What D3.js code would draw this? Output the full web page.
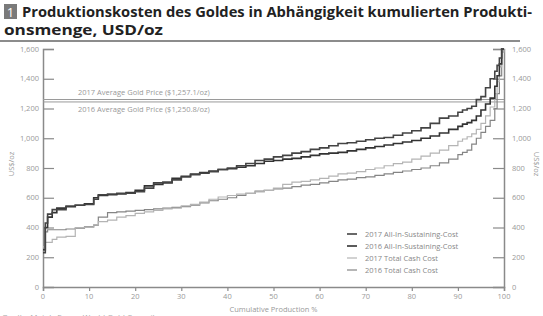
<!DOCTYPE html>
<html>
<head>
<meta charset="utf-8">
<script src="https://cdn.jsdelivr.net/npm/d3@7"></script>
<style>
  body { margin: 0; background: #fff; }
  svg { display: block; font-family: "Open Sans", "DejaVu Sans", sans-serif; }
</style>
</head>
<body>
<svg width="543" height="316"></svg>
<script>
// cumulative production % (shared grid)
var pct = [0, 0.5, 1, 2, 3, 5, 7, 9, 11, 12, 14, 16, 18, 20, 22, 24, 26, 28, 30, 32, 34, 36, 38, 40,
  42, 44, 46, 48, 50, 52, 54, 56, 58, 60, 62, 64, 66, 68, 70, 72, 74, 76, 78, 80, 82, 84, 86, 88,
  90, 91, 92, 93, 94, 95, 96, 97, 98, 98.5, 99, 99.5, 100];

var aisc17 = [230, 430, 490, 520, 520, 545, 550, 555, 590, 620, 625, 630, 630, 640, 665, 700, 705, 720, 740, 755, 765, 775, 790, 800,
  815, 830, 850, 860, 875, 885, 900, 910, 925, 935, 950, 965, 970, 980, 990, 1000, 1005, 1020, 1035, 1050, 1070, 1100, 1135, 1150,
  1175, 1190, 1200, 1215, 1260, 1280, 1340, 1400, 1450, 1490, 1540, 1600, 1600];

var aisc16 = [250, 400, 470, 500, 530, 540, 550, 560, 600, 615, 620, 625, 635, 650, 680, 690, 700, 730, 745, 760, 770, 780, 790, 795,
  805, 815, 830, 845, 850, 860, 865, 875, 885, 895, 900, 905, 915, 925, 935, 945, 955, 965, 975, 985, 1000, 1015, 1035, 1060,
  1080, 1095, 1105, 1120, 1150, 1190, 1230, 1270, 1350, 1420, 1500, 1600, 1600];

var tcc17 = [270, 300, 300, 320, 335, 340, 400, 400, 420, 440, 450, 470, 480, 495, 505, 515, 525, 530, 545, 555, 570, 590, 605, 615,
  625, 630, 640, 650, 665, 690, 705, 710, 720, 730, 745, 760, 765, 775, 790, 800, 815, 830, 840, 860, 880, 900, 920, 950,
  980, 995, 1010, 1030, 1060, 1100, 1150, 1210, 1300, 1380, 1480, 1580, 1600];

var tcc16 = [250, 370, 385, 385, 385, 390, 395, 405, 415, 470, 500, 505, 510, 515, 520, 525, 530, 535, 540, 550, 565, 580, 590, 600,
  615, 630, 645, 650, 660, 665, 675, 685, 690, 700, 710, 720, 725, 735, 740, 750, 760, 770, 780, 790, 800, 815, 835, 860,
  890, 905, 920, 960, 1000, 1040, 1080, 1120, 1200, 1300, 1420, 1580, 1600];

var seriesNames = ["2017 All-In-Sustaining-Cost", "2016 All-In-Sustaining-Cost", "2017 Total Cash Cost", "2016 Total Cash Cost"];
var seriesValues = [aisc17, aisc16, tcc17, tcc16];
var seriesColors = ["#444", "#333", "#b4b4b4", "#858585"];

var goldPrices = [1257.1, 1250.8];
var goldLabels = ["2017 Average Gold Price ($1,257.1/oz)", "2016 Average Gold Price ($1,250.8/oz)"];

var yTicks = [0, 200, 400, 600, 800, 1000, 1200, 1400, 1600];
var xTicks = [0, 10, 20, 30, 40, 50, 60, 70, 80, 90, 100];

var svg = d3.select("svg");
// plot area edges (note: "top" is reserved on window, so use own names)
var plotL = 43, plotR = 504, plotT = 49, plotB = 287;

var x = d3.scaleLinear().domain([0, 100]).range([plotL, plotR]);
var y = d3.scaleLinear().domain([0, 1600]).range([plotB, plotT]);
var fmt = d3.format(",");

// ---- title ----
svg.append("rect").attr("x", 4).attr("y", 4).attr("width", 13).attr("height", 15).attr("fill", "#7a7a7a");
svg.append("text").attr("x", 10.5).attr("y", 16.5).attr("text-anchor", "middle")
  .attr("fill", "#fff").attr("font-size", 13).text("1");
svg.append("text").attr("x", 22).attr("y", 17).attr("font-size", 15).attr("font-weight", "bold")
  .attr("fill", "#222").attr("textLength", 510).attr("lengthAdjust", "spacingAndGlyphs")
  .text("Produktionskosten des Goldes in Abhängigkeit kumulierten Produkti-");
svg.append("text").attr("x", 4).attr("y", 35).attr("font-size", 15).attr("font-weight", "bold")
  .attr("fill", "#222").attr("textLength", 159).attr("lengthAdjust", "spacingAndGlyphs")
  .text("onsmenge, USD/oz");
svg.append("line").attr("x1", 0).attr("x2", 520).attr("y1", 41).attr("y2", 41)
  .attr("stroke", "#666").attr("stroke-width", 1.5);

// ---- axes ----
var axisColor = "#8a8a8a", labelColor = "#999";

var gl = svg.append("g").attr("transform", "translate(" + plotL + ",0)")
  .call(d3.axisRight(y).tickValues(yTicks).tickSize(11).tickFormat(""));
var gr = svg.append("g").attr("transform", "translate(" + plotR + ",0)")
  .call(d3.axisLeft(y).tickValues(yTicks).tickSize(11).tickFormat(""));
var gb = svg.append("g").attr("transform", "translate(0," + plotB + ")")
  .call(d3.axisBottom(x).tickValues(xTicks).tickSize(4).tickFormat(""));
[gl, gr, gb].forEach(function(g) {
  g.select(".domain").attr("stroke", axisColor).attr("stroke-width", 1.5);
  g.selectAll(".tick line").attr("stroke", axisColor).attr("stroke-width", 1.2);
});
gl.selectAll(".tick").filter(function(d) { return d === 0; }).remove();
gr.selectAll(".tick").filter(function(d) { return d === 0; }).remove();

svg.append("g").selectAll("text").data(yTicks).enter().append("text")
  .attr("x", 39).attr("y", function(d) { return y(d) + 2.5; })
  .attr("text-anchor", "end").attr("font-size", 7.5).attr("fill", labelColor)
  .text(function(d) { return fmt(d); });
svg.append("g").selectAll("text").data(yTicks).enter().append("text")
  .attr("x", 512).attr("y", function(d) { return y(d) + 2.5; })
  .attr("font-size", 7.5).attr("fill", labelColor)
  .text(function(d) { return fmt(d); });
svg.append("g").selectAll("text").data(xTicks).enter().append("text")
  .attr("x", function(d) { return x(d); }).attr("y", 299)
  .attr("text-anchor", "middle").attr("font-size", 7.5).attr("fill", labelColor)
  .text(function(d) { return d; });

svg.append("text").attr("transform", "translate(14,164) rotate(-90)")
  .attr("text-anchor", "middle").attr("font-size", 7.5).attr("fill", labelColor).text("US$/oz");
svg.append("text").attr("transform", "translate(534,164) rotate(90)")
  .attr("text-anchor", "middle").attr("font-size", 7.5).attr("fill", labelColor).text("US$/oz");
svg.append("text").attr("x", x(50)).attr("y", 312)
  .attr("text-anchor", "middle").attr("font-size", 7.5).attr("fill", labelColor)
  .text("Cumulative Production %");
svg.append("text").attr("x", 2).attr("y", 320).attr("font-size", 8).attr("fill", "#aaa")
  .text("Quelle: Metals Focus, World Gold Council");

// ---- gold price lines ----
goldPrices.forEach(function(p, i) {
  svg.append("line").attr("x1", plotL).attr("x2", plotR)
    .attr("y1", y(p) + (i ? 1 : -0.5)).attr("y2", y(p) + (i ? 1 : -0.5))
    .attr("stroke", "#9a9a9a").attr("stroke-width", 1);
});
svg.append("text").attr("x", 78).attr("y", 95).attr("font-size", 7.5).attr("fill", "#999").text(goldLabels[0]);
svg.append("text").attr("x", 78).attr("y", 112).attr("font-size", 7.5).attr("fill", "#999").text(goldLabels[1]);

// ---- cost curves ----
var line = d3.line()
  .x(function(d, i) { return x(pct[i]); })
  .y(function(d) { return y(d); })
  .curve(d3.curveStepAfter);

[3, 2, 1, 0].forEach(function(k) {
  svg.append("path").datum(seriesValues[k])
    .attr("fill", "none").attr("stroke", seriesColors[k])
    .attr("stroke-width", k < 2 ? 1.6 : 1.2)
    .attr("d", line);
});

// ---- legend ----
var lg = svg.append("g").selectAll("g").data(seriesNames).enter().append("g")
  .attr("transform", function(d, i) { return "translate(347," + (234 + i * 12) + ")"; });
lg.append("line").attr("x1", 0).attr("x2", 10)
  .attr("stroke", function(d, i) { return seriesColors[i]; })
  .attr("stroke-width", function(d, i) { return i < 2 ? 1.6 : 1.2; });
lg.append("text").attr("x", 18).attr("y", 2.5).attr("font-size", 7.5).attr("fill", "#888")
  .text(function(d) { return d; });
</script>
</body>
</html>
